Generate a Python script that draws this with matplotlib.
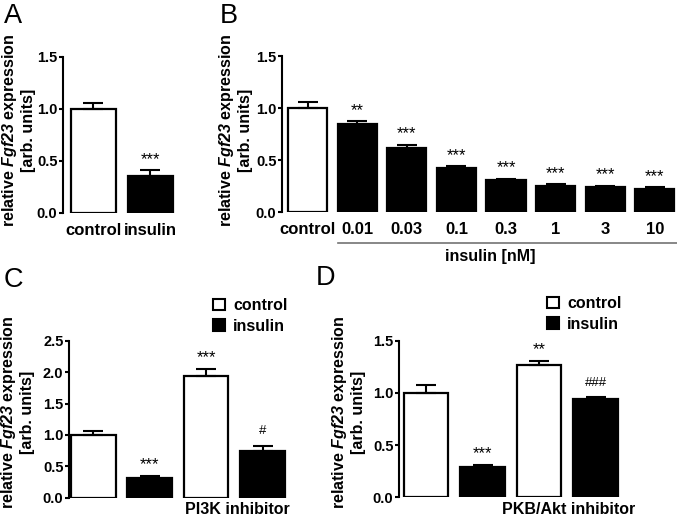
import numpy as np
import matplotlib
matplotlib.use("Agg")
import matplotlib.pyplot as plt
from matplotlib.patches import Patch
import matplotlib.transforms as mtrans

plt.rcParams['font.family'] = ['Liberation Sans', 'DejaVu Sans']
plt.rcParams['font.weight'] = 'bold'
plt.rcParams['mathtext.fontset'] = 'custom'
plt.rcParams['mathtext.bfit'] = 'Liberation Sans:bold:italic'

# panel A
a_labels = ["control", "insulin"]
a_mean = [1.0, 0.36]
a_err = [0.057, 0.05]
a_marks = ["", "***"]

# panel B
b_labels = ["control", "0.01", "0.03", "0.1", "0.3", "1", "3", "10"]
b_mean = [1.0, 0.845, 0.618, 0.42, 0.305, 0.253, 0.238, 0.218]
b_err = [0.058, 0.027, 0.026, 0.02, 0.015, 0.014, 0.012, 0.019]
b_marks = ["", "**", "***", "***", "***", "***", "***", "***"]

# panel C (PI3K inhibitor)
c_mean = [1.0, 0.31, 1.94, 0.74]
c_err = [0.06, 0.04, 0.11, 0.09]
c_marks = ["", "***", "***", "#"]

# panel D (PKB/Akt inhibitor)
d_mean = [1.0, 0.293, 1.27, 0.945]
d_err = [0.075, 0.017, 0.04, 0.013]
d_marks = ["", "***", "**", "###"]

group_colors = ["white", "black", "white", "black"]

W, H = 677, 522
fig = plt.figure(figsize=(W / 100, H / 100), dpi=100)


def px_axes(left, right, bottom, top):
    # pixel box -> figure fraction
    return fig.add_axes([left / W, 1 - bottom / H, (right - left) / W, (bottom - top) / H])


def style(ax, ymax, step):
    for s in ["top", "right", "bottom"]:
        ax.spines[s].set_visible(False)
    ax.spines["left"].set_linewidth(1.5)
    ax.set_ylim(0, ymax)
    ticks = np.arange(0, ymax + 0.01, step)
    ax.set_yticks(ticks)
    ax.set_yticklabels(["%.1f" % v for v in ticks], fontsize=10.5)
    ax.tick_params(axis="y", length=3, width=1.5, pad=1)
    ax.tick_params(axis="x", length=0, pad=7, labelsize=12)


def draw_bars(ax, mean, err, colors, marks):
    x = np.arange(len(mean))
    ax.bar(x, mean, width=0.79, color=colors, edgecolor="black", linewidth=1.6,
           yerr=[np.zeros(len(err)), err],
           error_kw=dict(ecolor="black", elinewidth=1.5, capsize=7, capthick=1.5))
    for xi, m, e, s in zip(x, mean, err, marks):
        if not s:
            continue
        if s.startswith("#"):
            ax.annotate(s, (xi, m + e), xytext=(0, 8.3), textcoords="offset points",
                        ha="center", va="baseline", fontsize=9.5, fontweight="normal")
        else:
            ax.annotate(s, (xi, m + e), xytext=(0, 4.7), textcoords="offset points",
                        ha="center", va="baseline", fontsize=12, fontweight="normal")
    return x


ylab = "relative $\\mathbfit{Fgf23}$ expression\n[arb. units]"

# A
axA = px_axes(63, 176, 213, 57)
x = draw_bars(axA, a_mean, a_err, ["white", "black"], a_marks)
style(axA, 1.5, 0.5)
axA.set_xlim(-0.535, 1.45)
axA.set_xticks(x)
axA.set_xticklabels(a_labels)

# B
axB = px_axes(282, 677, 212, 56)
x = draw_bars(axB, b_mean, b_err, ["white"] + ["black"] * 7, b_marks)
style(axB, 1.5, 0.5)
axB.set_xlim(-0.52, 7.45)
axB.set_xticks(x)
axB.set_xticklabels(b_labels)
tr = mtrans.blended_transform_factory(axB.transData, axB.transAxes)
axB.plot([0.61, 7.45], [-0.199, -0.199], color="0.45", lw=1.2, transform=tr, clip_on=False)
axB.text(3.68, -0.285, "insulin [nM]", transform=tr, ha="center", va="center", fontsize=11.5)

# C
axC = px_axes(69, 69 + 219, 497.7, 340.7)
x = draw_bars(axC, c_mean, c_err, group_colors, c_marks)
style(axC, 2.5, 0.5)
axC.set_xlim(-0.43, 3.45)
axC.set_xticks([])
tr = mtrans.blended_transform_factory(axC.transData, axC.transAxes)
axC.text(2.55, -0.078, "PI3K inhibitor", transform=tr, ha="center", va="center", fontsize=11.5)

# D
axD = px_axes(399, 399 + 222, 497.3, 340.7)
x = draw_bars(axD, d_mean, d_err, group_colors, d_marks)
style(axD, 1.5, 0.5)
axD.set_xlim(-0.48, 3.45)
axD.set_xticks([])
tr = mtrans.blended_transform_factory(axD.transData, axD.transAxes)
axD.text(2.53, -0.078, "PKB/Akt inhibitor", transform=tr, ha="center", va="center", fontsize=11.5)

# legends
handles = [Patch(facecolor="white", edgecolor="black", linewidth=1.5),
           Patch(facecolor="black", edgecolor="black", linewidth=1.5)]
for ax, lx, ty in [(axC, 213, 298), (axD, 547, 296)]:
    ax.legend(handles, ["control", "insulin"], loc="upper left",
              bbox_to_anchor=(lx / W, 1 - ty / H), bbox_transform=fig.transFigure,
              frameon=False, borderpad=0, borderaxespad=0, handlelength=0.75,
              handleheight=0.75, handletextpad=0.5, labelspacing=0.35,
              prop=dict(size=11.5, weight="bold"))

# y labels
for xc, yc in [(18, 130), (235, 130), (17, 412), (348, 412)]:
    fig.text(xc / W, 1 - yc / H, ylab, rotation=90, ha="center", va="center",
             fontsize=11.5, multialignment="center")

# panel letters
for s, xc, yc in [("A", 13, 16), ("B", 229, 16), ("C", 13, 280), ("D", 326, 278)]:
    fig.text(xc / W, 1 - yc / H, s, ha="center", va="center", fontsize=19.5, fontweight="normal")

fig.savefig("out.png", dpi=100)
